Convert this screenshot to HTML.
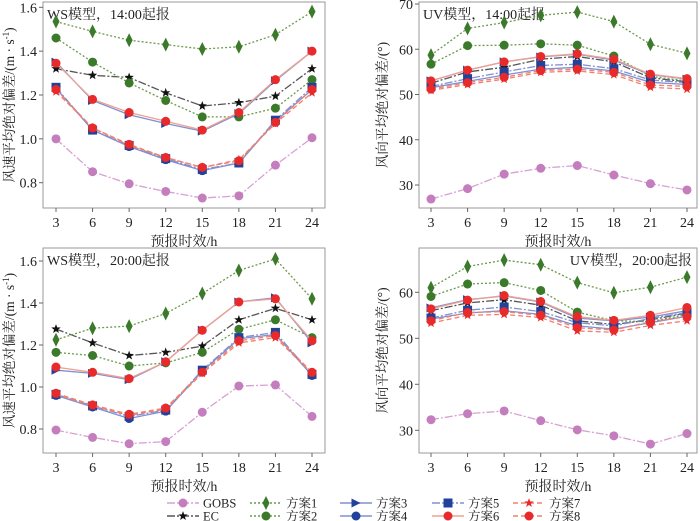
<!DOCTYPE html>
<html><head><meta charset="utf-8">
<style>
body{margin:0;background:#fff;}
svg{display:block;font-family:"Liberation Serif","Noto Serif CJK SC",serif;}
</style></head>
<body>
<svg id="chart" width="700" height="521" viewBox="0 0 700 521"></svg>
<script>
const hours = [3,6,9,12,15,18,21,24];
const seriesNames = ['GOBS','EC','方案1','方案2','方案3','方案4','方案5','方案6','方案7','方案8'];
// WS 14:00
const ws14_GOBS=[1.0,0.85,0.795,0.76,0.73,0.74,0.88,1.005];
const ws14_EC=[1.32,1.29,1.28,1.21,1.15,1.165,1.195,1.32];
const ws14_s1=[1.535,1.49,1.45,1.43,1.41,1.42,1.475,1.58];
const ws14_s2=[1.46,1.35,1.255,1.175,1.10,1.10,1.14,1.27];
const ws14_s3=[1.35,1.175,1.11,1.07,1.035,1.115,1.265,1.40];
const ws14_s4=[1.23,1.04,0.965,0.905,0.855,0.89,1.08,1.225];
const ws14_s5=[1.235,1.04,0.97,0.91,0.86,0.89,1.085,1.235];
const ws14_s6=[1.345,1.18,1.12,1.08,1.04,1.12,1.27,1.40];
const ws14_s7=[1.215,1.05,0.97,0.915,0.87,0.905,1.07,1.21];
const ws14_s8=[1.225,1.05,0.975,0.915,0.87,0.9,1.075,1.225];
// UV 14:00
const uv14_GOBS=[26.9,29.2,32.4,33.7,34.3,32.2,30.3,28.9];
const uv14_EC=[52.5,55,56,57.8,58.4,57.2,53.7,52.8];
const uv14_s1=[58.7,64.6,65.9,67.5,68.2,66.1,61.1,59.1];
const uv14_s2=[56.7,60.8,60.9,61.2,60.9,58.5,54,53];
const uv14_s3=[53,55.4,57.2,58.3,58.9,57.6,54.4,53.4];
const uv14_s4=[51.5,52.9,54.3,55.6,56.0,55.2,52.7,52.2];
const uv14_s5=[51.8,53.5,55.0,56.4,56.7,55.7,53.2,52.6];
const uv14_s6=[53,55.4,57.2,58.4,59.0,57.8,54.5,53.5];
const uv14_s7=[50.9,52.2,53.4,54.9,55.2,54.4,51.6,51.2];
const uv14_s8=[51.2,52.6,53.8,55.3,55.6,54.9,52.1,51.8];
// WS 20:00
const ws20_GOBS=[0.795,0.76,0.73,0.74,0.88,1.005,1.01,0.86];
const ws20_EC=[1.276,1.21,1.15,1.165,1.195,1.32,1.375,1.32];
const ws20_s1=[1.225,1.28,1.29,1.35,1.445,1.555,1.61,1.42];
const ws20_s2=[1.165,1.15,1.10,1.115,1.165,1.275,1.32,1.235];
const ws20_s3=[1.08,1.065,1.035,1.12,1.27,1.405,1.425,1.21];
const ws20_s4=[0.96,0.905,0.85,0.885,1.075,1.23,1.25,1.055];
const ws20_s5=[0.965,0.91,0.86,0.89,1.08,1.235,1.26,1.06];
const ws20_s6=[1.095,1.07,1.04,1.12,1.27,1.405,1.42,1.22];
const ws20_s7=[0.965,0.91,0.865,0.895,1.065,1.21,1.235,1.065];
const ws20_s8=[0.97,0.915,0.87,0.9,1.07,1.22,1.245,1.07];
// UV 20:00
const uv20_GOBS=[32.3,33.6,34.2,32.1,30.1,28.8,27.0,29.3];
const uv20_EC=[56.0,57.7,58.4,57.2,53.8,53.0,54.0,55.5];
const uv20_s1=[61.0,65.6,67,66,62.1,59.9,61.1,63.3];
const uv20_s2=[59.1,61.8,62.1,60.4,55.7,53.8,53.6,55.2];
const uv20_s3=[56.6,58.4,59.2,57.9,54.4,53.8,54.6,56.0];
const uv20_s4=[54.2,55.5,56.0,55.2,52.7,52.0,53.4,54.8];
const uv20_s5=[54.4,56.1,56.8,55.8,53.4,52.7,54.3,55.6];
const uv20_s6=[56.4,58.3,59.3,58.0,54.7,53.9,55.0,56.7];
const uv20_s7=[53.3,55.0,55.2,54.5,51.6,51.3,52.8,53.8];
const uv20_s8=[53.8,55.6,55.8,55.0,52.3,51.8,53.6,54.7];
const wsTicks=[0.8,1.0,1.2,1.4,1.6];
const uvTicks14=[30,40,50,60,70];
const uvTicks20=[30,40,50,60];

const NS='http://www.w3.org/2000/svg';
const svg=document.getElementById('chart');
function mk(tag,attrs,parent){const e=document.createElementNS(NS,tag);for(const k in attrs)e.setAttribute(k,attrs[k]);(parent||svg).appendChild(e);return e;}

const styles=[
 {line:'#d9a0d4',dash:'8,2,2,2',mk:'circle',fill:'#c47ebe',r:4.5},
 {line:'#555',dash:'8,2,2,2',mk:'star',fill:'#111',r:4.5},
 {line:'#6a9a4a',dash:'2,2',mk:'diamond',fill:'#3b7a2a',r:5},
 {line:'#6a9a4a',dash:'2,2',mk:'circle',fill:'#3b7a2a',r:4.5},
 {line:'#8090d0',dash:'',mk:'tri',fill:'#22419a',r:4.5},
 {line:'#8090d0',dash:'',mk:'circle',fill:'#22419a',r:4.5},
 {line:'#8090d0',dash:'8,2,2,2',mk:'square',fill:'#22419a',r:4.5},
 {line:'#f0a090',dash:'',mk:'circle',fill:'#e82a2a',r:4.5},
 {line:'#f08070',dash:'5,3',mk:'star',fill:'#e82a2a',r:4.5},
 {line:'#f08070',dash:'5,3',mk:'circle',fill:'#e82a2a',r:4.5}
];
function marker(g,type,x,y,r,fill){
 if(type==='circle')return mk('circle',{cx:x,cy:y,r:r,fill:fill},g);
 if(type==='square')return mk('rect',{x:x-r,y:y-r,width:2*r,height:2*r,fill:fill},g);
 if(type==='diamond')return mk('polygon',{points:`${x},${y-r*1.4} ${x+r*0.7},${y} ${x},${y+r*1.4} ${x-r*0.7},${y}`,fill:fill},g);
 if(type==='tri')return mk('polygon',{points:`${x-r},${y-r} ${x+r},${y} ${x-r},${y+r}`,fill:fill},g);
 if(type==='star'){let p=[];for(let i=0;i<10;i++){const a=-Math.PI/2+i*Math.PI/5;const rr=i%2?r*0.45:r*1.1;p.push((x+rr*Math.cos(a)).toFixed(1)+','+(y+rr*Math.sin(a)).toFixed(1));}return mk('polygon',{points:p.join(' '),fill:fill},g);}
}

function panel(opt){
 const g=mk('g',{});
 
 
 const xs=h=>opt.x0+(h-3)/21*(opt.x1-opt.x0);
 const ys=v=>opt.yA+(v-opt.vA)/(opt.vB-opt.vA)*(opt.yB-opt.yA);
 const fr=mk('rect',{x:opt.L,y:opt.T,width:opt.R-opt.L,height:opt.B-opt.T,fill:'none',stroke:'#999','stroke-width':1},g);
 
 opt.ticks.forEach(t=>{const y=ys(t);mk('line',{x1:opt.L-4,x2:opt.L,y1:y,y2:y,stroke:'#666'},g);
  const tx=mk('text',{x:opt.L-6,y:y+5,'text-anchor':'end','font-size':14,fill:'#222'},g);tx.textContent=opt.fmt(t);
  });
 hours.forEach(h=>{const x=xs(h);mk('line',{x1:x,x2:x,y1:opt.B,y2:opt.B+4,stroke:'#666'},g);
  const tx=mk('text',{x:x,y:opt.B+19,'text-anchor':'middle','font-size':14,fill:'#222'},g);tx.textContent=h;
  });
 const xl=mk('text',{x:(opt.L+opt.R)/2,y:opt.B+38,'text-anchor':'middle','font-size':14,fill:'#222'},g);xl.textContent='预报时效/h';
 
 const yl=mk('text',{transform:`translate(${opt.ylx},${(opt.T+opt.B)/2}) rotate(-90)`,'text-anchor':'middle','font-size':13.5,fill:'#222'},g);
 yl.innerHTML=opt.ylabel;
 
 const tt=mk('text',{x:opt.tx,y:opt.T+17,'text-anchor':opt.ta,'font-size':14,fill:'#222'},g);tt.textContent=opt.title;
 
 opt.data.forEach((arr,i)=>{const s=styles[i];
  const sg=mk('g',{},g);
  
  
  const pts=arr.map((v,j)=>xs(hours[j]).toFixed(1)+','+ys(v).toFixed(1)).join(' ');
  mk('polyline',{points:pts,fill:'none',stroke:s.line,'stroke-width':1.3,'stroke-dasharray':s.dash},sg);
  arr.forEach((v,j)=>{const m=marker(sg,s.mk,xs(hours[j]),ys(v),s.r,s.fill);
   });
 });
}
const wsLabel='风速平均绝对偏差/(m · s<tspan dy="-5" font-size="9">-1</tspan><tspan dy="5">)</tspan>';
const uvLabel='风向平均绝对偏差/(°)';
panel({name:'ws-1400-panel',L:43,R:325,T:2,B:208,x0:56,x1:312,yA:7.3,vA:1.6,yB:182.7,vB:0.8,ticks:wsTicks,fmt:v=>v.toFixed(1),ylabel:wsLabel,ylx:14,title:'WS模型，14:00起报',tx:47,ta:'start',
 data:[ws14_GOBS,ws14_EC,ws14_s1,ws14_s2,ws14_s3,ws14_s4,ws14_s5,ws14_s6,ws14_s7,ws14_s8]});
panel({name:'uv-1400-panel',L:419,R:697,T:2,B:208,x0:431,x1:687,yA:4,vA:70,yB:185,vB:30,ticks:uvTicks14,fmt:v=>v,ylabel:uvLabel,ylx:387,title:'UV模型，14:00起报',tx:423,ta:'start',
 data:[uv14_GOBS,uv14_EC,uv14_s1,uv14_s2,uv14_s3,uv14_s4,uv14_s5,uv14_s6,uv14_s7,uv14_s8]});
panel({name:'ws-2000-panel',L:43,R:325,T:248,B:453,x0:56,x1:312,yA:261,vA:1.6,yB:429,vB:0.8,ticks:wsTicks,fmt:v=>v.toFixed(1),ylabel:wsLabel,ylx:14,title:'WS模型，20:00起报',tx:47,ta:'start',
 data:[ws20_GOBS,ws20_EC,ws20_s1,ws20_s2,ws20_s3,ws20_s4,ws20_s5,ws20_s6,ws20_s7,ws20_s8]});
panel({name:'uv-2000-panel',L:419,R:697,T:248,B:453,x0:431,x1:687,yA:292.3,vA:60,yB:430.3,vB:30,ticks:uvTicks20,fmt:v=>v,ylabel:uvLabel,ylx:387,title:'UV模型，20:00起报',tx:692,ta:'end',
 data:[uv20_GOBS,uv20_EC,uv20_s1,uv20_s2,uv20_s3,uv20_s4,uv20_s5,uv20_s6,uv20_s7,uv20_s8]});

// legend
const lg=mk('g',{});


const cols=[167,250,340,432,513];
seriesNames.forEach((n,i)=>{const c=Math.floor(i/2),r=i%2;const x=cols[c],y=503+r*13;const s=styles[i];
 const eg=mk('g',{},lg);
 
 
 mk('line',{x1:x,x2:x+32,y1:y,y2:y,stroke:s.line,'stroke-width':1.5,'stroke-dasharray':s.dash},eg);
 marker(eg,s.mk,x+16,y,s.r,s.fill);
 const t=mk('text',{x:x+36,y:y+4.5,'font-size':12.5,fill:'#222'},eg);t.textContent=n;
});
</script>
</body></html>
